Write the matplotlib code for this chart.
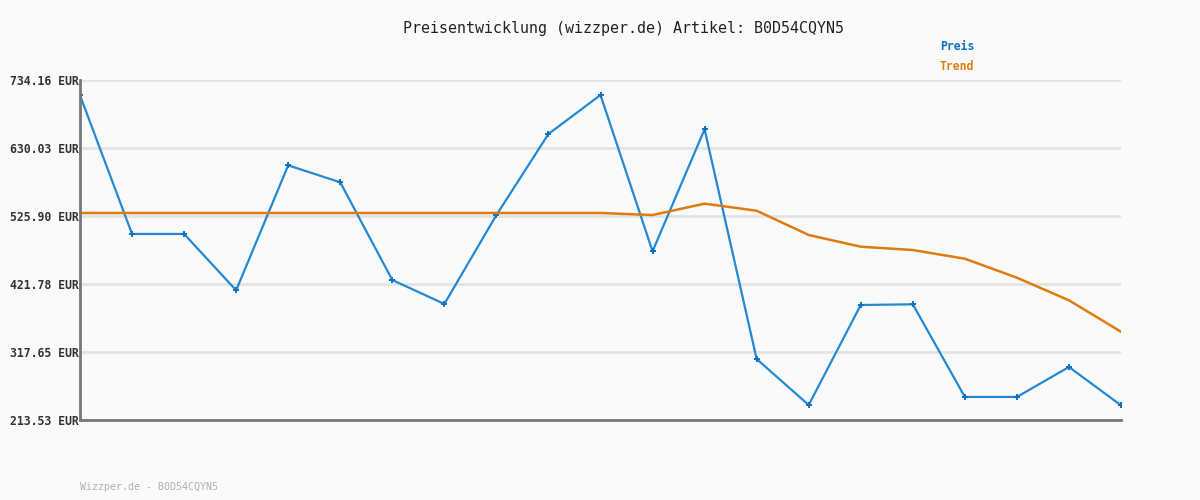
import numpy as np
import matplotlib
matplotlib.use('Agg')
import matplotlib.pyplot as plt

# data
preis = [710.7, 498.4, 498.4, 412.1, 603.5, 577.5, 427.9, 391.2, 527.4, 651.5, 711.2,
         471.9, 658.7, 306.9, 236.5, 389.6, 390.7, 248.8, 248.8, 294.7, 236.0]
trend = [530.5, 530.5, 530.5, 530.5, 530.5, 530.5, 530.5, 530.5, 530.5, 530.5, 530.5,
         527.4, 544.8, 534.0, 496.8, 478.9, 473.8, 460.5, 431.4, 396.8, 348.7]
y_min = 213.53
y_max = 734.16
y_ticks = [213.53, 317.65, 421.78, 525.90, 630.03, 734.16]
title = 'Preisentwicklung (wizzper.de) Artikel: B0D54CQYN5'
footer = 'Wizzper.de - B0D54CQYN5'

bg = '#fafafa'
blue = '#2389d3'
orange = '#e07c0e'
mono = ['DejaVu Sans Mono']

fig = plt.figure(figsize=(12, 5), dpi=100, facecolor=bg)
ax = fig.add_axes([80/1200, 80/500, (1121-80)/1200, 340/500])
ax.set_facecolor(bg)

x = np.arange(len(preis))
ax.plot(x, preis, color=blue, linewidth=1.6, marker='+', markersize=4,
        markeredgewidth=1.4, markeredgecolor='#0a72c0', zorder=3)
ax.plot(x, trend, color=orange, linewidth=1.8, zorder=4)

ax.set_xlim(0, len(preis) - 1)
ax.set_ylim(y_min, y_max)
ax.set_yticks(y_ticks)
ax.set_yticklabels(['%.2f EUR' % v for v in y_ticks], family=mono,
                   fontsize=8.3, fontweight='bold', color='#333333')
ax.set_xticks([])
ax.tick_params(axis='y', length=0, pad=1)
ax.grid(axis='y', color='#e3e3e3', linewidth=2, zorder=0)

for s in ['top', 'right']:
    ax.spines[s].set_visible(False)
for s in ['left', 'bottom']:
    ax.spines[s].set_color('#777777')
    ax.spines[s].set_linewidth(2)
    ax.spines[s].set_zorder(5)

fig.text(623.5/1200, 1 - 28/500, title, ha='center', va='center', family=mono,
         fontsize=10.8, color='#222222')
fig.text(940/1200, 1 - 47/500, 'Preis', ha='left', va='center', family=mono,
         fontsize=8.3, fontweight='bold', color='#0a72c0')
fig.text(940/1200, 1 - 67/500, 'Trend', ha='left', va='center', family=mono,
         fontsize=8.3, fontweight='bold', color='#e07c0e')
fig.text(80/1200, 1 - 487/500, footer, ha='left', va='center', family=mono,
         fontsize=7.2, color='#b0b0b0')

plt.savefig('out.png', dpi=100, facecolor=bg)
